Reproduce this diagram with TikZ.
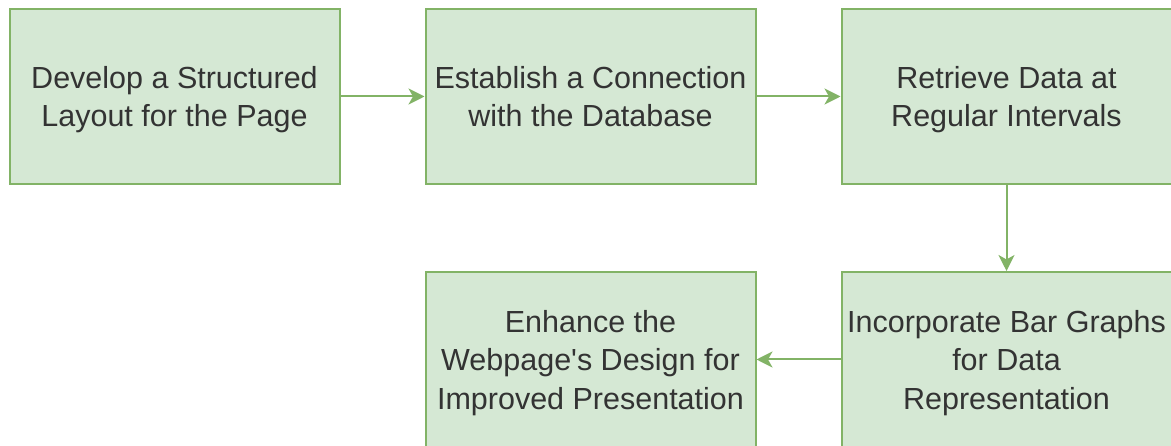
\documentclass[tikz,border=0pt]{standalone}
\usepackage{fontspec}
\setmainfont{Liberation Sans}
\usetikzlibrary{arrows.meta}
\definecolor{boxfill}{HTML}{D5E8D4}
\definecolor{boxline}{HTML}{82B366}
\definecolor{txt}{HTML}{333333}
\tikzset{
  stepbox/.style={draw=boxline, fill=boxfill, line width=2pt,
    minimum width=330pt, minimum height=175pt, inner sep=0pt,
    align=center, text=txt, text depth=0pt,
    font=\fontsize{30.5pt}{38.5pt}\selectfont},
  flow/.style={draw=boxline, line width=2pt,
    -{Stealth[length=16pt,width=16pt,inset=4.5pt]}}
}
\begin{document}
\begin{tikzpicture}[x=1pt,y=-1pt]
  \useasboundingbox (0,0) rectangle (1171,446);
  \node[stepbox] (layout)   at (174.5,96.5)  {Develop a Structured\\Layout for the Page};
  \node[stepbox] (connect)  at (590.5,96.5)  {Establish a Connection\\with the Database};
  \node[stepbox] (retrieve) at (1006.5,96.5) {Retrieve Data at\\Regular Intervals};
  \node[stepbox] (graphs)   at (1006.5,359.5) {Incorporate Bar Graphs\\for Data\\Representation};
  \node[stepbox] (enhance)  at (590.5,359.5) {Enhance the\\Webpage\textquotesingle s Design for\\Improved Presentation};
  \draw[flow] (layout) -- (connect);
  \draw[flow] (connect) -- (retrieve);
  \draw[flow] (retrieve) -- (graphs);
  \draw[flow] (graphs) -- (enhance);
\end{tikzpicture}
\end{document}
